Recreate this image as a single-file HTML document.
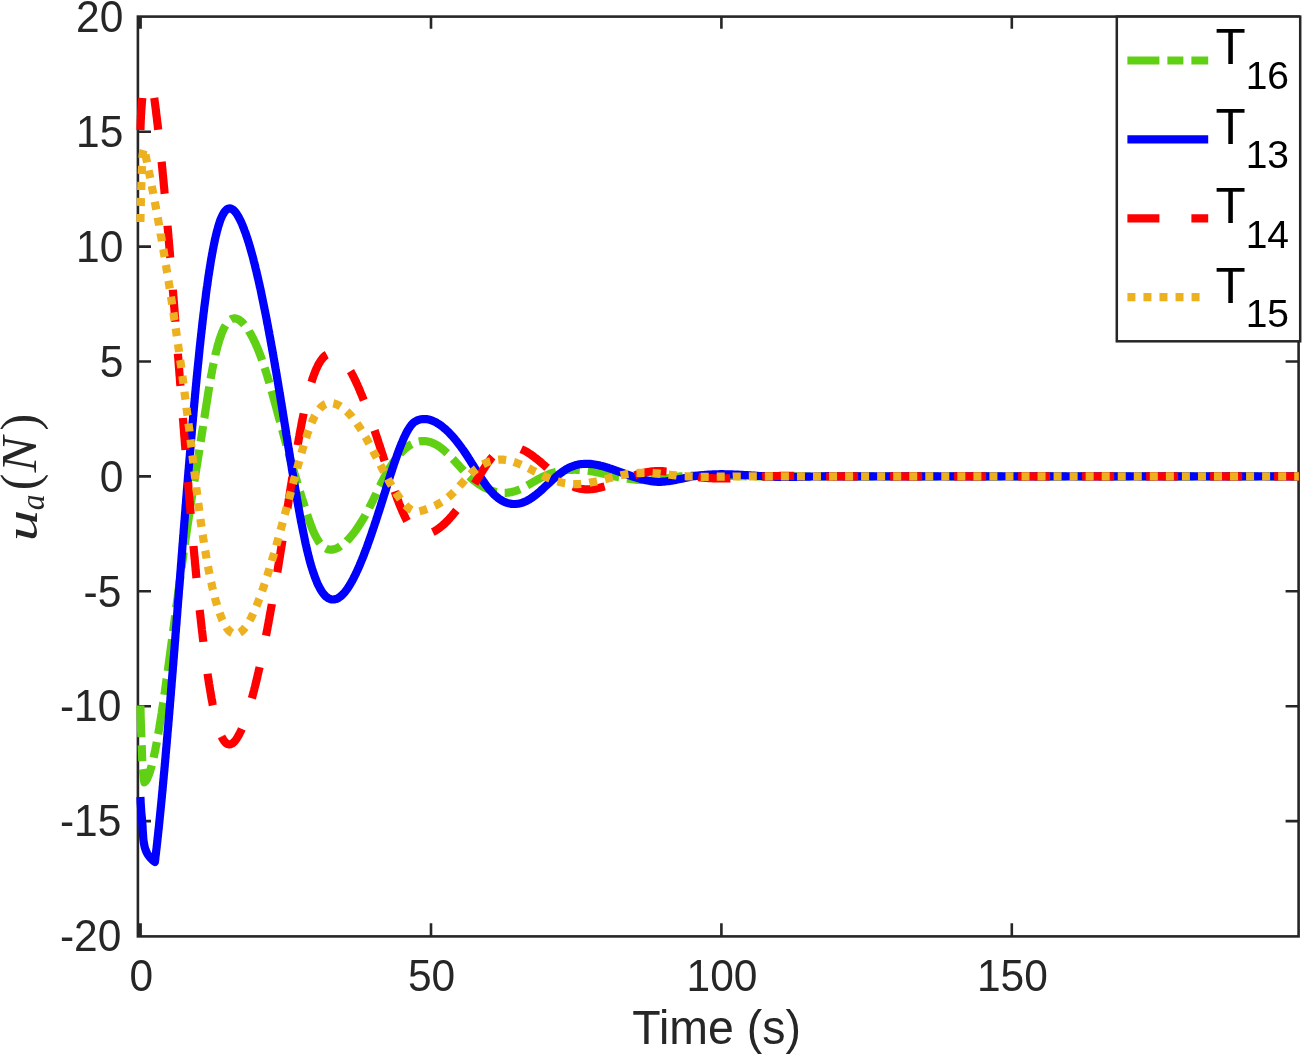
<!DOCTYPE html>
<html><head><meta charset="utf-8"><title>u_a(N) vs Time</title>
<style>
html,body{margin:0;padding:0;background:#fff;}
body{width:1302px;height:1054px;overflow:hidden;}
svg{display:block;}
.tk text{font-family:"Liberation Sans",Arial,Helvetica,sans-serif;font-size:44px;fill:#262626;}
.ax path,.ax rect{stroke:#262626;stroke-width:2.6;fill:none;}
.cv path{fill:none;stroke-width:8.2;stroke-linejoin:round;stroke-linecap:butt;}
.lg text{font-family:"Liberation Sans",Arial,Helvetica,sans-serif;fill:#000;}
</style></head><body>
<svg width="1302" height="1054" viewBox="0 0 1302 1054">
<rect width="1302" height="1054" fill="#fff"/>
<g class="ax">
<rect x="137.9" y="16.6" width="1160.7" height="919.8"/>
<path stroke-width="3.2" style="stroke-width:3.2" d="M140.3 936.4V923.3M140.3 16.6V28.8"/>
<path d="M431.0 936.4V923.3M431.0 16.6V28.8"/>
<path d="M721.4 936.4V923.3M721.4 16.6V28.8"/>
<path d="M1011.8 936.4V923.3M1011.8 16.6V28.8"/>
<path d="M137.9 821.1H151M1298.6 821.1H1285.6"/>
<path d="M137.9 706.2H151M1298.6 706.2H1285.6"/>
<path d="M137.9 591.3H151M1298.6 591.3H1285.6"/>
<path d="M137.9 476.4H151M1298.6 476.4H1285.6"/>
<path d="M137.9 361.5H151M1298.6 361.5H1285.6"/>
<path d="M137.9 246.6H151M1298.6 246.6H1285.6"/>
<path d="M137.9 131.7H151M1298.6 131.7H1285.6"/>
</g>
<g class="tk">
<text transform="translate(141.2 991.1) scale(0.965 1)" text-anchor="middle">0</text>
<text transform="translate(431.6 991.1) scale(0.965 1)" text-anchor="middle">50</text>
<text transform="translate(722.0 991.1) scale(0.965 1)" text-anchor="middle">100</text>
<text transform="translate(1012.4 991.1) scale(0.965 1)" text-anchor="middle">150</text>
<text transform="translate(121.3 951.2) scale(0.965 1)" text-anchor="end">-20</text>
<text transform="translate(121.3 836.3) scale(0.965 1)" text-anchor="end">-15</text>
<text transform="translate(121.3 721.4) scale(0.965 1)" text-anchor="end">-10</text>
<text transform="translate(121.3 606.5) scale(0.965 1)" text-anchor="end">-5</text>
<text transform="translate(123.3 491.6) scale(0.965 1)" text-anchor="end">0</text>
<text transform="translate(123.3 376.7) scale(0.965 1)" text-anchor="end">5</text>
<text transform="translate(123.3 261.8) scale(0.965 1)" text-anchor="end">10</text>
<text transform="translate(123.3 146.9) scale(0.965 1)" text-anchor="end">15</text>
<text transform="translate(123.3 32.0) scale(0.965 1)" text-anchor="end">20</text>
<text x="632.3" y="1044" textLength="168.6" lengthAdjust="spacingAndGlyphs" style="font-size:48.3px">Time (s)</text>
</g>
<g transform="translate(36.3 538.5) rotate(-90)" style="font-family:'Liberation Serif','Times New Roman',serif;fill:#262626">
<text transform="translate(-2.9 0.3) scale(1.40 1)" font-size="45.5px" font-style="italic">u</text>
<text transform="translate(28.35 8.1) scale(0.92 1)" font-size="34.4px" font-style="italic">a</text>
<text transform="translate(48.3 0.8) scale(0.94 1)" font-size="53.4px">(</text>
<text transform="translate(66.3 0) scale(1.05 1)" font-size="50.8px" font-style="italic">N</text>
<text transform="translate(108 0.8) scale(0.94 1)" font-size="53.4px">)</text>
</g>
<g class="cv">
<path stroke="#60D015" stroke-dasharray="31.938 7.985 15.969 7.985" d="M140.4 705.4L140.4 706.9L140.5 708.4L140.5 709.8L140.5 711.3L140.6 712.8L140.6 714.3L140.6 715.8L140.7 717.3L140.7 718.7L140.8 720.2L140.8 721.7L140.9 723.2L140.9 724.7L141.0 726.1L141.0 727.6L141.1 729.1L141.1 730.6L141.2 732.1L141.2 733.5L141.3 735.0L141.4 736.5L141.4 738.0L141.5 739.5L141.5 740.9L141.6 742.4L141.6 743.9L141.7 745.4L141.8 746.9L141.8 748.3L141.9 749.8L141.9 751.3L142.0 752.8L142.0 754.3L142.1 755.8L142.1 757.2L142.2 758.7L142.2 760.2L142.3 761.7L142.4 763.2L142.5 764.6L142.6 766.1L142.7 767.6L142.8 769.1L143.0 770.5L143.1 772.0L143.2 773.5L143.4 775.0L143.6 776.4L143.7 777.9L143.9 779.4L144.1 780.8L144.4 782.3L145.5 781.3L146.4 780.1L147.1 778.8L147.7 777.4L148.3 776.0L148.9 774.6L149.4 773.2L149.9 771.8L150.3 770.4L150.7 768.9L151.2 767.5L151.6 766.0L151.9 764.6L152.3 763.1L152.7 761.7L153.0 760.2L153.4 758.8L153.7 757.3L154.0 755.8L154.3 754.4L154.6 752.9L155.0 751.4L155.3 750.0L155.5 748.5L155.8 747.0L156.1 745.6L156.4 744.1L156.7 742.6L157.0 741.1L157.2 739.7L157.5 738.2L157.8 736.7L158.0 735.2L158.3 733.8L158.5 732.3L158.8 730.8L159.0 729.3L159.3 727.9L159.5 726.4L159.8 724.9L160.0 723.4L160.3 721.9L160.5 720.5L160.7 719.0L161.0 717.5L161.2 716.0L161.4 714.5L161.7 713.1L161.9 711.6L162.1 710.1L162.3 708.6L162.6 707.1L162.8 705.6L163.0 704.2L163.2 702.7L163.5 701.2L163.7 699.7L163.9 698.2L164.1 696.8L164.3 695.3L164.5 693.8L164.8 692.3L165.0 690.8L165.2 689.3L165.4 687.9L165.6 686.4L165.8 684.9L166.0 683.4L166.2 681.9L166.4 680.4L166.7 678.9L166.9 677.5L167.1 676.0L167.3 674.5L167.5 673.0L167.7 671.5L167.9 670.0L168.1 668.6L168.3 667.1L168.5 665.6L168.7 664.1L168.9 662.6L169.1 661.1L169.3 659.6L169.5 658.2L169.7 656.7L169.9 655.2L170.1 653.7L170.3 652.2L170.5 650.7L170.7 649.2L170.9 647.8L171.1 646.3L171.3 644.8L171.5 643.3L171.7 641.8L171.9 640.3L172.1 638.8L172.3 637.4L172.5 635.9L172.7 634.4L172.9 632.9L173.1 631.4L173.3 629.9L173.5 628.4L173.7 627.0L173.9 625.5L174.1 624.0L174.3 622.5L174.5 621.0L174.7 619.5L174.8 618.0L175.0 616.5L175.2 615.1L175.4 613.6L175.6 612.1L175.8 610.6L176.0 609.1L176.2 607.6L176.4 606.1L176.6 604.7L176.8 603.2L177.0 601.7L177.2 600.2L177.4 598.7L177.6 597.2L177.8 595.7L178.0 594.3L178.2 592.8L178.4 591.3L178.6 589.8L178.8 588.3L179.0 586.8L179.2 585.3L179.4 583.9L179.6 582.4L179.8 580.9L180.0 579.4L180.2 577.9L180.4 576.4L180.6 574.9L180.8 573.5L181.0 572.0L181.2 570.5L181.4 569.0L181.6 567.5L181.8 566.0L182.0 564.5L182.2 563.1L182.4 561.6L182.6 560.1L182.8 558.6L183.0 557.1L183.2 555.6L183.4 554.2L183.6 552.7L183.8 551.2L184.1 549.7L184.3 548.2L184.5 546.7L184.7 545.2L184.9 543.8L185.1 542.3L185.3 540.8L185.5 539.3L185.7 537.8L186.0 536.3L186.2 534.9L186.4 533.4L186.6 531.9L186.8 530.4L187.0 528.9L187.3 527.4L187.5 526.0L187.7 524.5L187.9 523.0L188.2 521.5L188.4 520.0L188.6 518.5L188.8 517.1L189.0 515.6L189.3 514.1L189.5 512.6L189.7 511.1L189.9 509.7L190.2 508.2L190.4 506.7L190.6 505.2L190.9 503.7L191.1 502.2L191.3 500.8L191.5 499.3L191.8 497.8L192.0 496.3L192.2 494.8L192.5 493.4L192.7 491.9L192.9 490.4L193.2 488.9L193.4 487.4L193.6 486.0L193.9 484.5L194.1 483.0L194.3 481.5L194.6 480.0L194.8 478.6L195.0 477.1L195.3 475.6L195.5 474.1L195.7 472.6L196.0 471.2L196.2 469.7L196.4 468.2L196.7 466.7L196.9 465.2L197.2 463.7L197.4 462.3L197.6 460.8L197.9 459.3L198.1 457.8L198.3 456.3L198.6 454.9L198.8 453.4L199.0 451.9L199.3 450.4L199.5 448.9L199.7 447.5L200.0 446.0L200.2 444.5L200.4 443.0L200.7 441.5L200.9 440.1L201.1 438.6L201.4 437.1L201.6 435.6L201.8 434.1L202.1 432.7L202.3 431.2L202.5 429.7L202.8 428.2L203.0 426.7L203.2 425.3L203.5 423.8L203.7 422.3L203.9 420.8L204.1 419.3L204.4 417.8L204.6 416.4L204.8 414.9L205.0 413.4L205.3 411.9L205.5 410.4L205.7 409.0L206.0 407.5L206.2 406.0L206.4 404.5L206.7 403.0L206.9 401.5L207.1 400.1L207.4 398.6L207.6 397.1L207.8 395.6L208.1 394.1L208.3 392.7L208.5 391.2L208.8 389.7L209.0 388.2L209.3 386.7L209.5 385.3L209.8 383.8L210.0 382.3L210.3 380.8L210.5 379.4L210.8 377.9L211.0 376.4L211.3 374.9L211.6 373.5L211.9 372.0L212.1 370.5L212.4 369.0L212.7 367.6L213.0 366.1L213.3 364.6L213.6 363.2L213.9 361.7L214.2 360.2L214.5 358.8L214.8 357.3L215.2 355.8L215.4 355.1"/>
<path stroke="#60D015" stroke-dasharray="31.628 7.907 15.814 7.907" d="M215.4 355.1L215.5 354.4L215.9 352.9L216.2 351.5L216.6 350.0L217.0 348.6L217.3 347.1L217.7 345.7L218.1 344.2L218.6 342.8L219.0 341.3L219.4 339.9L219.9 338.5L220.4 337.1L220.9 335.7L221.4 334.2L221.9 332.8L222.5 331.5L223.1 330.1L223.7 328.7L224.4 327.4L225.1 326.1L225.9 324.8L226.7 323.5L227.6 322.3L228.6 321.2L229.7 320.2L231.0 319.4L232.3 318.7L233.8 318.4L235.3 318.4L236.8 318.8L238.1 319.3L239.4 320.1L240.6 321.0L241.8 322.0L242.8 323.0L243.9 324.1L244.8 325.2L245.8 326.4L246.7 327.6L247.5 328.9L248.4 330.1L248.9 331.0"/>
<path stroke="#60D015" stroke-dasharray="32.077 8.019 16.039 8.019" d="M248.9 331.0L249.1 331.4L249.9 332.7L250.7 334.0L251.4 335.3L252.1 336.6L252.8 337.9L253.5 339.3L254.1 340.6L254.8 342.0L255.4 343.3L256.0 344.7L256.6 346.1L257.2 347.5L257.8 348.8L258.3 350.2L258.9 351.6L259.4 353.0L260.0 354.4L260.5 355.8L261.0 357.2L261.5 358.6L262.0 360.0L262.5 361.5L263.0 362.9L263.5 364.3L264.0 365.7L264.4 367.1L264.9 368.6L265.4 370.0L265.8 371.4L266.3 372.8L266.7 374.3L267.2 375.7L267.6 377.1L268.0 378.6L268.5 380.0L268.9 381.4L269.3 382.9L269.7 384.3L270.1 385.8L270.6 387.2L271.0 388.6L271.4 390.1L271.6 390.8"/>
<path stroke="#60D015" stroke-dasharray="32.209 8.052 16.104 8.052" d="M271.6 390.8L271.8 391.5L272.2 393.0L272.6 394.4L273.0 395.9L273.4 397.3L273.8 398.8L274.2 400.2L274.6 401.6L275.0 403.1L275.4 404.5L275.8 406.0L276.2 407.4L276.6 408.9L276.9 410.3L277.3 411.8L277.7 413.2L278.1 414.7L278.5 416.1L278.9 417.6L279.3 419.0L279.7 420.5L280.1 421.9L280.5 423.4L280.8 424.8L281.2 426.2L281.6 427.7L282.0 429.1L282.4 430.6L282.8 432.0L283.2 433.5L283.6 434.9L284.0 436.4L284.4 437.8L284.8 439.3L285.2 440.7L285.6 442.2L286.0 443.6L286.4 445.0L286.8 446.5L287.2 447.9L287.6 449.4L288.0 450.8L288.4 452.3L288.8 453.7L289.2 455.1L289.6 456.6L290.0 458.0L290.4 459.5L290.9 460.9L291.3 462.4L291.7 463.8L292.1 465.2L292.5 466.7L292.9 468.1L293.4 469.5L293.8 471.0L294.2 472.4L294.6 473.9L295.1 475.3L295.5 476.7L295.9 478.2L296.3 479.6L296.8 481.0L297.2 482.5L297.6 483.9L298.1 485.4L298.5 486.8L298.9 488.2L299.4 489.7L299.8 491.1L300.3 492.5L300.7 494.0L301.1 495.4L301.6 496.8L302.0 498.3L302.5 499.7L302.9 501.1L303.4 502.5L303.8 504.0L304.3 505.4L304.7 506.8L305.2 508.3L305.6 509.7L306.1 511.1L306.5 512.5L307.0 514.0L307.2 514.6"/>
<path stroke="#60D015" stroke-dasharray="31.492 7.873 15.746 7.873" d="M307.2 514.6L307.5 515.4L307.9 516.8L308.4 518.2L308.9 519.7L309.4 521.1L309.9 522.5L310.4 523.9L310.9 525.3L311.4 526.7L312.0 528.1L312.5 529.5L313.1 530.9L313.7 532.3L314.3 533.6L315.0 535.0L315.7 536.3L316.4 537.6L317.1 538.9L317.9 540.2L318.7 541.5L319.6 542.7L320.5 543.9L321.5 545.0L322.6 546.0L323.7 547.0L324.9 547.9L326.2 548.6L327.6 549.2L329.1 549.5L330.6 549.7L332.1 549.6L333.5 549.4L335.0 549.0L336.4 548.5L337.7 547.8L339.0 547.1L340.3 546.3L341.5 545.4L342.7 544.5L343.9 543.6L345.0 542.6L346.1 541.6L346.7 541.1"/>
<path stroke="#60D015" stroke-dasharray="32.225 8.056 16.113 8.056" d="M346.7 541.1L347.2 540.5L348.3 539.5L349.3 538.4L350.3 537.2L351.3 536.1L352.2 534.9L353.2 533.8L354.1 532.6L355.0 531.4L355.9 530.2L356.7 529.0L357.6 527.7L358.4 526.5L359.2 525.2L360.0 524.0L360.8 522.7L361.6 521.4L362.4 520.1L363.2 518.9L363.9 517.6L364.7 516.3L365.4 515.0L366.1 513.6L366.9 512.3L367.6 511.0L368.3 509.7L369.0 508.4L369.6 507.0L370.3 505.7L371.0 504.3L371.7 503.0L372.3 501.7L373.0 500.3L373.6 499.0L374.3 497.6L374.9 496.3L375.6 494.9L376.3 493.6L376.9 492.2L377.6 490.9L378.2 489.5L378.9 488.2L379.5 486.8L379.8 486.2"/>
<path stroke="#60D015" stroke-dasharray="30.590 7.647 15.295 7.647" d="M379.8 486.2L380.2 485.5L380.8 484.1L381.5 482.8L382.2 481.5L382.9 480.1L383.6 478.8L384.3 477.5L385.0 476.1L385.7 474.8L386.4 473.5L387.2 472.2L387.9 470.9L388.7 469.6L389.4 468.3L390.2 467.1L391.0 465.8L391.9 464.5L392.7 463.3L393.5 462.1L394.4 460.8L395.3 459.6L396.2 458.4L397.1 457.2L398.0 456.1L399.0 454.9L400.0 453.8L401.0 452.7L402.0 451.6L403.1 450.6L404.2 449.5L405.3 448.5L406.5 447.6L407.7 446.7L408.9 445.8L410.2 445.0L411.5 444.2L412.8 443.6L414.2 442.9L415.5 442.4L417.0 441.9L418.4 441.6L418.9 441.5"/>
<path stroke="#60D015" stroke-dasharray="32.000 8.000 16.000 8.000" d="M418.9 441.5L419.9 441.3L421.4 441.1L422.9 441.0L424.4 441.1L425.9 441.2L427.4 441.4L428.8 441.7L430.3 442.1L431.7 442.6L433.1 443.2L434.4 443.8L435.8 444.5L437.1 445.2L438.4 446.0L439.6 446.8L440.8 447.7L442.0 448.6L443.2 449.6L444.3 450.5L445.4 451.5L446.5 452.6L447.6 453.6L448.7 454.6L449.7 455.7L450.8 456.8L451.8 457.9L452.8 459.0L453.9 460.1L454.9 461.2L455.9 462.3L456.9 463.4L457.9 464.5L458.9 465.6L459.9 466.7L460.9 467.8L461.9 468.9L463.0 470.0L464.0 471.1L465.0 472.2L466.1 473.3L467.1 474.3L468.2 475.4L469.3 476.4L470.4 477.4L471.5 478.4L472.6 479.4L473.8 480.4L475.0 481.3L476.2 482.2L477.4 483.1L478.6 484.0L479.8 484.8L481.1 485.6L482.4 486.4L483.7 487.1L485.0 487.8L486.3 488.5L487.7 489.1L489.1 489.7L490.5 490.3L491.9 490.8L493.3 491.2L494.8 491.6L496.2 492.0L497.7 492.3L499.2 492.5L500.7 492.7L502.2 492.8L503.7 492.9L505.2 492.9L506.6 492.8L508.1 492.6L509.6 492.4L511.1 492.2L512.6 491.8L514.0 491.5L515.4 491.0L516.9 490.5L518.3 490.0L519.6 489.4L521.0 488.8L522.3 488.1L523.7 487.4L525.0 486.7L526.3 486.0L527.6 485.3L528.9 484.5L530.2 483.8L531.5 483.0L532.8 482.3L534.1 481.5L535.4 480.8L536.7 480.0L538.0 479.3L539.3 478.6L540.7 477.9L542.0 477.2L543.4 476.5L544.7 475.9L546.1 475.3L547.5 474.8L548.9 474.2L550.3 473.7L551.7 473.2L553.1 472.8L554.6 472.4L556.0 472.0L557.5 471.6L558.9 471.3L560.4 471.0L561.9 470.8L563.4 470.5L564.9 470.3L566.3 470.2L567.8 470.0L569.3 469.9L570.8 469.8L572.3 469.8L573.8 469.7L575.3 469.7L576.8 469.8L578.3 469.8L579.8 469.9L581.3 470.0L582.8 470.1L584.3 470.3L585.8 470.4L587.3 470.6L588.8 470.8L590.2 471.1L591.7 471.3L593.2 471.6L594.7 471.9L596.1 472.2L597.6 472.5L599.1 472.8L600.5 473.1L602.0 473.4L603.5 473.8L604.9 474.1L606.4 474.4L607.8 474.8L609.3 475.1L610.8 475.5L612.2 475.8L613.7 476.1L615.2 476.4L616.6 476.8L618.1 477.1L619.6 477.3L621.0 477.6L622.5 477.9L624.0 478.1L625.5 478.4L626.9 478.6L628.4 478.8L629.9 479.0L631.4 479.2L632.9 479.4L634.4 479.5L635.9 479.7L637.4 479.8L638.9 479.9L640.4 480.0L641.9 480.0L643.4 480.1L644.9 480.1L646.4 480.1L647.9 480.0L649.4 480.0L650.8 479.9L652.3 479.8L653.8 479.7L655.3 479.6L656.8 479.4L658.3 479.3L659.8 479.1L661.3 478.9L662.8 478.8L664.3 478.6L665.8 478.4L667.2 478.2L668.7 478.0L670.2 477.8L671.7 477.6L673.2 477.4L674.7 477.2L676.2 477.0L677.6 476.8L679.1 476.6L680.6 476.4L682.1 476.3L683.6 476.2L685.1 476.0L686.6 475.9L688.1 475.8L689.6 475.7L691.1 475.7L692.6 475.6L694.1 475.5L695.6 475.5L697.1 475.5L698.6 475.4L700.1 475.4L701.6 475.4L703.1 475.4L704.6 475.4L706.1 475.4L707.6 475.4L709.1 475.4L710.6 475.5L712.1 475.5L713.6 475.5L715.1 475.5L716.6 475.6L718.1 475.6L719.6 475.6L721.1 475.7L722.6 475.7L724.1 475.8L725.6 475.8L727.0 475.8L728.5 475.9L730.0 475.9L731.5 475.9L733.0 476.0L734.5 476.0L736.0 476.0L737.5 476.1L739.0 476.1L740.5 476.1L742.0 476.2L743.5 476.2L745.0 476.2L746.5 476.3L748.0 476.3L749.5 476.3L751.0 476.4L752.5 476.4L754.0 476.4L755.5 476.4L757.0 476.4L758.5 476.5L760.0 476.5L761.5 476.5L763.0 476.5L764.5 476.5L766.0 476.5L767.5 476.5L769.0 476.6L770.5 476.6L772.0 476.6L773.5 476.6L775.0 476.6L776.5 476.6L778.0 476.5L779.5 476.5L781.0 476.5L782.5 476.5L784.0 476.5L785.5 476.5L787.0 476.5L788.5 476.4L790.0 476.4L1298.8 476.4"/>
<path id="cb" stroke="#0000FF" d="M140.4 797.1L140.5 798.6L140.6 800.1L140.6 801.6L140.7 803.1L140.8 804.5L140.9 806.0L141.0 807.5L141.1 809.0L141.2 810.5L141.3 812.0L141.4 813.5L141.6 815.0L141.7 816.4L141.9 817.9L142.0 819.4L142.1 820.9L142.3 822.4L142.4 823.9L142.5 825.4L142.6 826.8L142.6 828.3L142.7 829.8L142.8 831.3L142.9 832.8L143.0 834.3L143.1 835.8L143.2 837.3L143.3 838.7L143.5 840.2L143.7 841.7L143.9 843.2L144.2 844.6L144.5 846.1L144.8 847.5L145.3 849.0L145.8 850.4L146.4 851.8L147.0 853.1L147.8 854.4L148.6 855.6L149.5 856.8L150.5 857.9L151.5 859.0L152.5 860.1L153.7 861.1L154.9 861.9L155.1 860.4L155.3 858.9L155.4 857.4L155.6 855.9L155.8 854.5L156.0 853.0L156.1 851.5L156.3 850.0L156.5 848.5L156.7 847.0L156.8 845.5L157.0 844.0L157.2 842.5L157.3 841.1L157.5 839.6L157.6 838.1L157.8 836.6L158.0 835.1L158.1 833.6L158.3 832.1L158.4 830.6L158.6 829.1L158.8 827.6L158.9 826.2L159.1 824.7L159.2 823.2L159.4 821.7L159.5 820.2L159.7 818.7L159.8 817.2L160.0 815.7L160.1 814.2L160.3 812.7L160.4 811.2L160.6 809.7L160.7 808.3L160.9 806.8L161.0 805.3L161.2 803.8L161.3 802.3L161.5 800.8L161.6 799.3L161.8 797.8L161.9 796.3L162.0 794.8L162.2 793.3L162.3 791.8L162.5 790.4L162.6 788.9L162.7 787.4L162.9 785.9L163.0 784.4L163.2 782.9L163.3 781.4L163.4 779.9L163.6 778.4L163.7 776.9L163.8 775.4L164.0 773.9L164.1 772.4L164.3 770.9L164.4 769.5L164.5 768.0L164.7 766.5L164.8 765.0L164.9 763.5L165.1 762.0L165.2 760.5L165.3 759.0L165.5 757.5L165.6 756.0L165.7 754.5L165.8 753.0L166.0 751.5L166.1 750.0L166.2 748.6L166.4 747.1L166.5 745.6L166.6 744.1L166.8 742.6L166.9 741.1L167.0 739.6L167.1 738.1L167.3 736.6L167.4 735.1L167.5 733.6L167.6 732.1L167.8 730.6L167.9 729.1L168.0 727.6L168.2 726.2L168.3 724.7L168.4 723.2L168.5 721.7L168.7 720.2L168.8 718.7L168.9 717.2L169.0 715.7L169.2 714.2L169.3 712.7L169.4 711.2L169.5 709.7L169.7 708.2L169.8 706.7L169.9 705.2L170.0 703.7L170.1 702.3L170.3 700.8L170.4 699.3L170.5 697.8L170.6 696.3L170.8 694.8L170.9 693.3L171.0 691.8L171.1 690.3L171.2 688.8L171.4 687.3L171.5 685.8L171.6 684.3L171.7 682.8L171.8 681.3L172.0 679.8L172.1 678.3L172.2 676.9L172.3 675.4L172.4 673.9L172.6 672.4L172.7 670.9L172.8 669.4L172.9 667.9L173.0 666.4L173.2 664.9L173.3 663.4L173.4 661.9L173.5 660.4L173.6 658.9L173.8 657.4L173.9 655.9L174.0 654.4L174.1 652.9L174.2 651.5L174.4 650.0L174.5 648.5L174.6 647.0L174.7 645.5L174.8 644.0L174.9 642.5L175.1 641.0L175.2 639.5L175.3 638.0L175.4 636.5L175.5 635.0L175.6 633.5L175.8 632.0L175.9 630.5L176.0 629.0L176.1 627.5L176.2 626.0L176.4 624.6L176.5 623.1L176.6 621.6L176.7 620.1L176.8 618.6L176.9 617.1L177.1 615.6L177.2 614.1L177.3 612.6L177.4 611.1L177.5 609.6L177.6 608.1L177.8 606.6L177.9 605.1L178.0 603.6L178.1 602.1L178.2 600.6L178.3 599.2L178.5 597.7L178.6 596.2L178.7 594.7L178.8 593.2L178.9 591.7L179.0 590.2L179.2 588.7L179.3 587.2L179.4 585.7L179.5 584.2L179.6 582.7L179.7 581.2L179.9 579.7L180.0 578.2L180.1 576.7L180.2 575.2L180.3 573.7L180.4 572.3L180.6 570.8L180.7 569.3L180.8 567.8L180.9 566.3L181.0 564.8L181.1 563.3L181.3 561.8L181.4 560.3L181.5 558.8L181.6 557.3L181.7 555.8L181.8 554.3L182.0 552.8L182.1 551.3L182.2 549.8L182.3 548.3L182.4 546.8L182.5 545.4L182.7 543.9L182.8 542.4L182.9 540.9L183.0 539.4L183.1 537.9L183.3 536.4L183.4 534.9L183.5 533.4L183.6 531.9L183.7 530.4L183.8 528.9L184.0 527.4L184.1 525.9L184.2 524.4L184.3 522.9L184.4 521.4L184.6 520.0L184.7 518.5L184.8 517.0L184.9 515.5L185.0 514.0L185.1 512.5L185.3 511.0L185.4 509.5L185.5 508.0L185.6 506.5L185.7 505.0L185.9 503.5L186.0 502.0L186.1 500.5L186.2 499.0L186.3 497.5L186.5 496.0L186.6 494.5L186.7 493.1L186.8 491.6L186.9 490.1L187.1 488.6L187.2 487.1L187.3 485.6L187.4 484.1L187.6 482.6L187.7 481.1L187.8 479.6L187.9 478.1L188.0 476.6L188.2 475.1L188.3 473.6L188.4 472.1L188.5 470.6L188.7 469.2L188.8 467.7L188.9 466.2L189.0 464.7L189.2 463.2L189.3 461.7L189.4 460.2L189.5 458.7L189.7 457.2L189.8 455.7L189.9 454.2L190.0 452.7L190.2 451.2L190.3 449.7L190.4 448.2L190.5 446.7L190.7 445.3L190.8 443.8L190.9 442.3L191.0 440.8L191.2 439.3L191.3 437.8L191.4 436.3L191.6 434.8L191.7 433.3L191.8 431.8L191.9 430.3L192.1 428.8L192.2 427.3L192.3 425.8L192.5 424.3L192.6 422.9L192.7 421.4L192.9 419.9L193.0 418.4L193.1 416.9L193.3 415.4L193.4 413.9L193.5 412.4L193.7 410.9L193.8 409.4L193.9 407.9L194.1 406.4L194.2 404.9L194.3 403.4L194.5 402.0L194.6 400.5L194.7 399.0L194.9 397.5L195.0 396.0L195.1 394.5L195.3 393.0L195.4 391.5L195.6 390.0L195.7 388.5L195.8 387.0L196.0 385.5L196.1 384.0L196.3 382.5L196.4 381.1L196.5 379.6L196.7 378.1L196.8 376.6L197.0 375.1L197.1 373.6L197.3 372.1L197.4 370.6L197.6 369.1L197.7 367.6L197.9 366.1L198.0 364.6L198.2 363.2L198.3 361.7L198.5 360.2L198.6 358.7L198.8 357.2L198.9 355.7L199.1 354.2L199.2 352.7L199.4 351.2L199.5 349.7L199.7 348.2L199.8 346.8L200.0 345.3L200.2 343.8L200.3 342.3L200.5 340.8L200.6 339.3L200.8 337.8L201.0 336.3L201.1 334.8L201.3 333.3L201.5 331.9L201.6 330.4L201.8 328.9L202.0 327.4L202.1 325.9L202.3 324.4L202.5 322.9L202.6 321.4L202.8 319.9L203.0 318.4L203.2 317.0L203.3 315.5L203.5 314.0L203.7 312.5L203.9 311.0L204.1 309.5L204.2 308.0L204.4 306.5L204.6 305.1L204.8 303.6L205.0 302.1L205.2 300.6L205.4 299.1L205.6 297.6L205.8 296.1L205.9 294.6L206.1 293.2L206.3 291.7L206.5 290.2L206.7 288.7L206.9 287.2L207.2 285.7L207.4 284.3L207.6 282.8L207.8 281.3L208.0 279.8L208.2 278.3L208.4 276.8L208.6 275.4L208.9 273.9L209.1 272.4L209.3 270.9L209.6 269.4L209.8 267.9L210.0 266.5L210.3 265.0L210.5 263.5L210.7 262.0L211.0 260.5L211.2 259.1L211.5 257.6L211.8 256.1L212.0 254.6L212.3 253.2L212.6 251.7L212.8 250.2L213.1 248.7L213.4 247.3L213.7 245.8L214.0 244.3L214.3 242.9L214.6 241.4L214.9 239.9L215.2 238.5L215.6 237.0L215.9 235.5L216.3 234.1L216.6 232.6L217.0 231.2L217.4 229.7L217.8 228.3L218.2 226.8L218.6 225.4L219.1 224.0L219.5 222.6L220.0 221.1L220.5 219.7L221.1 218.3L221.7 217.0L222.3 215.6L223.0 214.3L223.8 213.0L224.6 211.7L225.6 210.6L226.6 209.6L227.9 208.8L229.4 208.4L230.8 208.6L232.2 209.2L233.4 210.0L234.5 211.1L235.5 212.2L236.4 213.4L237.2 214.7L238.0 215.9L238.7 217.2L239.4 218.6L240.1 219.9L240.8 221.3L241.4 222.6L242.0 224.0L242.6 225.4L243.1 226.8L243.7 228.2L244.2 229.6L244.7 231.0L245.3 232.4L245.8 233.8L246.2 235.2L246.7 236.6L247.2 238.0L247.7 239.5L248.1 240.9L248.6 242.3L249.0 243.8L249.4 245.2L249.9 246.6L250.3 248.1L250.7 249.5L251.1 251.0L251.5 252.4L251.9 253.8L252.3 255.3L252.7 256.7L253.1 258.2L253.5 259.6L253.8 261.1L254.2 262.5L254.6 264.0L254.9 265.4L255.3 266.9L255.6 268.4L256.0 269.8L256.4 271.3L256.7 272.7L257.0 274.2L257.4 275.6L257.7 277.1L258.1 278.6L258.4 280.0L258.7 281.5L259.1 283.0L259.4 284.4L259.7 285.9L260.0 287.3L260.4 288.8L260.7 290.3L261.0 291.7L261.3 293.2L261.6 294.7L261.9 296.1L262.2 297.6L262.5 299.1L262.8 300.5L263.1 302.0L263.4 303.5L263.7 304.9L264.0 306.4L264.3 307.9L264.6 309.3L264.9 310.8L265.2 312.3L265.5 313.8L265.8 315.2L266.1 316.7L266.4 318.2L266.7 319.6L266.9 321.1L267.2 322.6L267.5 324.1L267.8 325.5L268.1 327.0L268.3 328.5L268.6 330.0L268.9 331.4L269.2 332.9L269.4 334.4L269.7 335.8L270.0 337.3L270.3 338.8L270.5 340.3L270.8 341.7L271.1 343.2L271.3 344.7L271.6 346.2L271.9 347.6L272.1 349.1L272.4 350.6L272.7 352.1L272.9 353.5L273.2 355.0L273.4 356.5L273.7 358.0L274.0 359.5L274.2 360.9L274.5 362.4L274.7 363.9L275.0 365.4L275.2 366.8L275.5 368.3L275.7 369.8L276.0 371.3L276.3 372.7L276.5 374.2L276.8 375.7L277.0 377.2L277.3 378.7L277.5 380.1L277.8 381.6L278.0 383.1L278.3 384.6L278.5 386.0L278.7 387.5L279.0 389.0L279.2 390.5L279.5 392.0L279.7 393.4L280.0 394.9L280.2 396.4L280.5 397.9L280.7 399.4L280.9 400.8L281.2 402.3L281.4 403.8L281.7 405.3L281.9 406.8L282.2 408.2L282.4 409.7L282.6 411.2L282.9 412.7L283.1 414.1L283.3 415.6L283.6 417.1L283.8 418.6L284.1 420.1L284.3 421.5L284.5 423.0L284.8 424.5L285.0 426.0L285.3 427.5L285.5 428.9L285.7 430.4L286.0 431.9L286.2 433.4L286.4 434.9L286.7 436.3L286.9 437.8L287.2 439.3L287.4 440.8L287.6 442.3L287.9 443.7L288.1 445.2L288.3 446.7L288.6 448.2L288.8 449.7L289.1 451.1L289.3 452.6L289.5 454.1L289.8 455.6L290.0 457.1L290.2 458.5L290.5 460.0L290.7 461.5L291.0 463.0L291.2 464.5L291.5 465.9L291.7 467.4L291.9 468.9L292.2 470.4L292.4 471.9L292.7 473.3L292.9 474.8L293.2 476.3L293.4 477.8L293.6 479.3L293.9 480.7L294.1 482.2L294.4 483.7L294.6 485.2L294.9 486.6L295.1 488.1L295.4 489.6L295.6 491.1L295.9 492.6L296.2 494.0L296.4 495.5L296.7 497.0L296.9 498.5L297.2 499.9L297.4 501.4L297.7 502.9L298.0 504.4L298.2 505.8L298.5 507.3L298.8 508.8L299.0 510.3L299.3 511.7L299.6 513.2L299.8 514.7L300.1 516.2L300.4 517.6L300.7 519.1L300.9 520.6L301.2 522.1L301.5 523.5L301.8 525.0L302.1 526.5L302.4 527.9L302.7 529.4L303.0 530.9L303.3 532.4L303.6 533.8L303.9 535.3L304.2 536.8L304.5 538.2L304.8 539.7L305.1 541.2L305.4 542.6L305.7 544.1L306.1 545.5L306.4 547.0L306.7 548.5L307.1 549.9L307.4 551.4L307.8 552.8L308.1 554.3L308.5 555.8L308.9 557.2L309.2 558.7L309.6 560.1L310.0 561.6L310.4 563.0L310.8 564.4L311.2 565.9L311.7 567.3L312.1 568.7L312.6 570.2L313.0 571.6L313.5 573.0L314.0 574.4L314.5 575.9L315.0 577.3L315.5 578.7L316.1 580.1L316.6 581.4L317.2 582.8L317.8 584.2L318.5 585.5L319.2 586.9L319.9 588.2L320.6 589.5L321.4 590.8L322.2 592.1L323.1 593.3L324.0 594.4L325.0 595.6L326.1 596.6L327.3 597.5L328.5 598.3L329.9 598.9L331.3 599.4L332.8 599.5L334.3 599.4L335.8 599.1L337.2 598.6L338.5 597.9L339.7 597.0L340.9 596.1L342.0 595.1L343.1 594.0L344.1 592.9L345.1 591.8L346.0 590.6L346.9 589.4L347.7 588.2L348.6 586.9L349.4 585.6L350.1 584.4L350.9 583.1L351.6 581.8L352.4 580.5L353.1 579.1L353.8 577.8L354.4 576.5L355.1 575.1L355.8 573.8L356.4 572.4L357.0 571.1L357.7 569.7L358.3 568.3L358.9 567.0L359.5 565.6L360.1 564.2L360.6 562.8L361.2 561.4L361.8 560.0L362.3 558.7L362.9 557.3L363.5 555.9L364.0 554.5L364.5 553.1L365.1 551.7L365.6 550.3L366.1 548.9L366.7 547.5L367.2 546.1L367.7 544.6L368.2 543.2L368.7 541.8L369.2 540.4L369.7 539.0L370.2 537.6L370.7 536.2L371.2 534.8L371.7 533.3L372.2 531.9L372.6 530.5L373.1 529.1L373.6 527.7L374.1 526.2L374.5 524.8L375.0 523.4L375.5 522.0L376.0 520.5L376.4 519.1L376.9 517.7L377.4 516.3L377.8 514.8L378.3 513.4L378.7 512.0L379.2 510.6L379.7 509.1L380.1 507.7L380.6 506.3L381.0 504.9L381.5 503.4L381.9 502.0L382.4 500.6L382.8 499.1L383.3 497.7L383.7 496.3L384.2 494.8L384.6 493.4L385.1 492.0L385.5 490.6L386.0 489.1L386.4 487.7L386.9 486.3L387.3 484.8L387.8 483.4L388.2 482.0L388.7 480.5L389.1 479.1L389.6 477.7L390.0 476.3L390.5 474.8L390.9 473.4L391.4 472.0L391.9 470.6L392.3 469.1L392.8 467.7L393.3 466.3L393.7 464.9L394.2 463.4L394.7 462.0L395.2 460.6L395.7 459.2L396.2 457.8L396.7 456.4L397.2 454.9L397.7 453.5L398.2 452.1L398.7 450.7L399.2 449.3L399.8 447.9L400.3 446.5L400.9 445.1L401.4 443.7L402.0 442.4L402.6 441.0L403.2 439.6L403.8 438.2L404.4 436.9L405.1 435.5L405.7 434.2L406.4 432.8L407.1 431.5L407.9 430.2L408.6 428.9L409.4 427.7L410.3 426.4L411.2 425.2L412.1 424.1L413.2 423.0L414.3 422.0L415.6 421.3L416.9 420.6L418.3 420.0L419.8 419.6L421.2 419.3L422.7 419.1L424.2 419.0L425.7 419.1L427.2 419.2L428.7 419.5L430.1 419.9L431.5 420.4L432.9 420.9L434.3 421.5L435.6 422.2L436.9 422.9L438.2 423.7L439.5 424.5L440.7 425.4L441.9 426.3L443.1 427.2L444.2 428.2L445.4 429.1L446.5 430.2L447.6 431.2L448.6 432.2L449.7 433.3L450.7 434.4L451.7 435.5L452.7 436.6L453.7 437.7L454.7 438.9L455.6 440.0L456.6 441.2L457.5 442.4L458.4 443.5L459.3 444.7L460.2 445.9L461.1 447.1L462.0 448.4L462.9 449.6L463.7 450.8L464.6 452.0L465.4 453.3L466.3 454.5L467.1 455.8L467.9 457.0L468.7 458.3L469.5 459.6L470.3 460.8L471.1 462.1L471.9 463.4L472.7 464.6L473.5 465.9L474.3 467.2L475.1 468.4L475.9 469.7L476.6 471.0L477.4 472.3L478.2 473.5L479.0 474.8L479.9 476.1L480.7 477.3L481.5 478.6L482.3 479.8L483.2 481.1L484.0 482.3L484.9 483.5L485.7 484.7L486.6 485.9L487.5 487.1L488.5 488.3L489.4 489.5L490.4 490.6L491.4 491.7L492.4 492.8L493.4 493.9L494.5 495.0L495.6 496.0L496.7 496.9L497.9 497.9L499.1 498.8L500.3 499.6L501.6 500.4L502.9 501.1L504.3 501.8L505.7 502.4L507.1 502.9L508.5 503.3L510.0 503.6L511.4 503.9L512.9 504.0L514.4 504.0L515.9 504.0L517.4 503.8L518.9 503.6L520.4 503.3L521.8 502.9L523.2 502.4L524.6 501.8L526.0 501.2L527.3 500.6L528.6 499.8L529.9 499.1L531.2 498.3L532.4 497.4L533.6 496.5L534.8 495.6L536.0 494.7L537.2 493.8L538.3 492.8L539.5 491.8L540.6 490.9L541.7 489.9L542.8 488.9L543.9 487.8L545.0 486.8L546.1 485.8L547.2 484.8L548.3 483.8L549.4 482.8L550.5 481.7L551.6 480.7L552.7 479.7L553.9 478.7L555.0 477.7L556.1 476.7L557.2 475.8L558.4 474.8L559.6 473.9L560.8 473.0L562.0 472.1L563.2 471.2L564.4 470.4L565.7 469.6L567.0 468.8L568.3 468.1L569.6 467.4L571.0 466.8L572.4 466.3L573.8 465.8L575.2 465.3L576.7 464.9L578.2 464.6L579.6 464.3L581.1 464.1L582.6 464.0L584.1 463.9L585.6 463.8L587.1 463.8L588.6 463.8L590.1 463.9L591.6 464.1L593.1 464.3L594.5 464.5L596.0 464.7L597.5 465.0L599.0 465.3L600.4 465.7L601.9 466.0L603.3 466.4L604.8 466.8L606.2 467.3L607.6 467.7L609.0 468.2L610.5 468.6L611.9 469.1L613.3 469.6L614.7 470.1L616.1 470.6L617.5 471.1L618.9 471.6L620.4 472.1L621.8 472.6L623.2 473.1L624.6 473.7L626.0 474.2L627.4 474.7L628.8 475.2L630.2 475.7L631.6 476.2L633.1 476.6L634.5 477.1L635.9 477.5L637.3 478.0L638.8 478.4L640.2 478.8L641.7 479.2L643.1 479.6L644.6 479.9L646.0 480.2L647.5 480.5L649.0 480.8L650.5 481.1L651.9 481.3L653.4 481.4L654.9 481.6L656.4 481.7L657.9 481.8L659.4 481.8L660.9 481.8L662.4 481.7L663.9 481.6L665.4 481.5L666.9 481.3L668.4 481.1L669.9 480.9L671.3 480.7L672.8 480.4L674.3 480.2L675.8 479.9L677.2 479.6L678.7 479.3L680.2 479.0L681.6 478.7L683.1 478.4L684.6 478.1L686.0 477.7L687.5 477.4L689.0 477.1L690.4 476.9L691.9 476.6L693.4 476.3L694.9 476.1L696.3 475.9L697.8 475.7L699.3 475.5L700.8 475.3L702.3 475.2L703.8 475.0L705.3 474.9L706.8 474.8L708.3 474.7L709.8 474.6L711.3 474.5L712.7 474.4L714.2 474.4L715.7 474.3L717.2 474.3L718.7 474.3L720.2 474.2L721.7 474.2L723.2 474.2L724.7 474.3L726.2 474.3L727.7 474.3L729.2 474.3L730.7 474.4L732.2 474.4L733.7 474.5L735.2 474.5L736.7 474.6L738.2 474.7L739.7 474.8L741.2 474.8L742.7 474.9L744.2 475.0L745.7 475.1L747.2 475.2L748.7 475.3L750.2 475.4L751.7 475.5L753.2 475.6L754.7 475.7L756.1 475.8L757.6 475.9L759.1 476.0L760.6 476.0L762.1 476.1L763.6 476.2L765.1 476.3L766.6 476.4L768.1 476.5L769.6 476.5L771.1 476.6L772.6 476.7L774.1 476.7L775.6 476.8L777.1 476.8L778.6 476.9L780.1 476.9L781.6 476.9L783.1 477.0L784.6 477.0L786.1 477.0L787.6 477.0L789.1 477.0L790.6 477.0L792.1 477.0L793.6 476.9L795.1 476.9L796.6 476.9L798.1 476.9L799.6 476.8L801.1 476.8L802.6 476.8L804.1 476.7L805.6 476.7L807.0 476.6L808.5 476.6L810.0 476.6L811.5 476.5L813.0 476.5L814.5 476.4L816.0 476.4L817.5 476.4L819.0 476.3L820.5 476.3L822.0 476.3L823.5 476.3L825.0 476.3L826.5 476.2L828.0 476.2L829.5 476.2L831.0 476.2L832.5 476.2L834.0 476.3L835.5 476.3L837.0 476.3L838.5 476.4L840.0 476.4L1298.8 476.4"/>
<path stroke="#FF0000" stroke-dasharray="32.145 32.145" d="M140.4 130.0L140.5 128.5L140.5 127.1L140.6 125.6L140.6 124.2L140.7 122.7L140.7 121.2L140.8 119.8L140.9 118.3L140.9 116.8L141.0 115.4L141.1 113.9L141.2 112.5L141.3 111.0L141.4 109.5L141.5 108.1L141.6 106.6L141.7 105.2L141.8 103.7L141.9 102.2L142.0 100.8L142.2 99.3L142.3 97.9L142.4 96.4L142.6 95.0L142.7 93.5L142.8 92.0L143.0 90.6L143.2 89.1L144.1 88.0L145.4 87.3L146.7 86.7L148.1 86.1L149.4 85.5L150.8 85.2L152.3 85.0L152.5 86.5L152.8 88.0L153.0 89.4L153.2 90.9L153.4 92.4L153.7 93.9L153.9 95.4L154.1 96.9L154.3 98.3L154.5 99.8L154.7 101.3L154.9 102.8L155.1 104.3L155.3 105.8L155.5 107.3L155.7 108.8L155.9 110.2L156.1 111.7L156.2 113.2L156.4 114.7L156.6 116.2L156.8 117.7L157.0 119.2L157.1 120.7L157.3 122.2L157.5 123.6L157.7 125.1L157.8 126.6L158.0 128.1L158.2 129.6L158.4 131.1L158.5 132.6L158.7 134.1L158.9 135.6L159.0 137.1L159.2 138.5L159.3 140.0L159.5 141.5L159.7 143.0L159.8 144.5L160.0 146.0L160.1 147.5L160.3 149.0L160.5 150.5L160.6 152.0L160.8 153.5L160.9 154.9L161.1 156.4L161.2 157.9L161.4 159.4L161.5 160.9L161.7 162.4L161.8 163.9L162.0 165.4L162.1 166.9L162.3 168.4L162.4 169.9L162.6 171.4L162.7 172.9L162.8 174.3L163.0 175.8L163.1 177.3L163.3 178.8L163.4 180.3L163.6 181.8L163.7 183.3L163.8 184.8L164.0 186.3L164.1 187.8L164.3 189.3L164.4 190.8L164.5 192.3L164.7 193.8L164.8 195.2L164.9 196.7L165.1 198.2L165.2 199.7L165.4 201.2L165.5 202.7L165.6 204.2L165.8 205.7L165.9 207.2L166.0 208.7L166.2 210.2L166.3 211.7L166.4 213.2L166.6 214.7L166.7 216.2L166.8 217.7L167.0 219.1L167.1 220.6L167.2 222.1L167.3 223.6L167.5 225.1L167.6 226.6L167.7 228.1L167.9 229.6L168.0 231.1L168.1 232.6L168.2 234.1L168.4 235.6L168.5 237.1L168.6 238.6L168.8 240.1L168.9 241.6L169.0 243.1L169.1 244.5L169.3 246.0L169.4 247.5L169.5 249.0L169.6 250.5L169.8 252.0L169.9 253.5L170.0 255.0L170.1 256.5L170.3 258.0L170.4 259.5L170.5 261.0L170.6 262.5L170.8 264.0L170.9 265.5L171.0 267.0L171.1 268.5L171.2 270.0L171.4 271.5L171.5 272.9L171.6 274.4L171.7 275.9L171.9 277.4L172.0 278.9L172.1 280.4L172.2 281.9L172.3 283.4L172.5 284.9L172.6 286.4L172.7 287.9L172.8 289.4L172.9 290.9L173.1 292.4L173.2 293.9L173.3 295.4L173.4 296.9L173.5 298.4L173.7 299.9L173.8 301.3L173.9 302.8L174.0 304.3L174.1 305.8L174.3 307.3L174.4 308.8L174.5 310.3L174.6 311.8L174.7 313.3L174.8 314.8L175.0 316.3L175.1 317.8L175.2 319.3L175.3 320.8L175.4 322.3L175.6 323.8L175.7 325.3L175.8 326.8L175.9 328.3L176.0 329.8L176.1 331.2L176.3 332.7L176.4 334.2L176.5 335.7L176.6 337.2L176.7 338.7L176.9 340.2L177.0 341.7L177.1 343.2L177.2 344.7L177.3 346.2L177.4 347.7L177.6 349.2L177.7 350.7L177.8 352.2L177.9 353.7L178.0 355.2L178.1 356.7L178.3 358.2L178.4 359.7L178.5 361.1L178.6 362.6L178.7 364.1L178.8 365.6L179.0 367.1L179.1 368.6L179.2 370.1L179.3 371.6L179.4 373.1L179.5 374.6L179.7 376.1L179.8 377.6L179.9 379.1L180.0 380.6L180.1 382.1L180.2 383.6L180.4 385.1L180.5 386.6L180.6 388.1L180.7 389.6L180.8 391.0L180.9 392.5L181.1 394.0L181.2 395.5L181.3 397.0L181.4 398.5L181.5 400.0L181.6 401.5L181.8 403.0L181.9 404.5L182.0 406.0L182.1 407.5L182.2 409.0L182.3 410.5L182.5 412.0L182.6 413.5L182.7 415.0L182.8 416.5L182.9 418.0L183.0 419.5L183.2 421.0L183.3 422.4L183.4 423.9L183.5 425.4L183.6 426.9L183.7 428.4L183.9 429.9L184.0 431.4L184.1 432.9L184.2 434.4L184.3 435.9L184.5 437.4L184.6 438.9L184.7 440.4L184.8 441.9L184.9 443.4L185.0 444.9L185.2 446.4L185.3 447.9L185.4 449.4L185.5 450.9L185.6 452.3L185.8 453.8L185.9 455.3L186.0 456.8L186.1 458.3L186.2 459.8L186.4 461.3L186.5 462.8L186.6 464.3L186.7 465.8L186.8 467.3L187.0 468.8L187.1 470.3L187.2 471.8L187.3 473.3L187.4 474.8L187.6 476.3L187.7 477.8L187.8 479.3L187.9 480.7L188.1 482.2L188.2 483.7L188.3 485.2L188.4 486.7L188.5 488.2L188.7 489.7L188.8 491.2L188.9 492.7L189.0 494.2L189.2 495.7L189.3 497.2L189.4 498.7L189.5 500.2L189.7 501.7L189.8 503.2L189.9 504.7L190.0 506.2L190.2 507.6L190.3 509.1L190.4 510.6L190.5 512.1L190.7 513.6L190.8 515.1L190.9 516.6L191.1 518.1L191.2 519.6L191.3 521.1L191.4 522.6L191.6 524.1L191.7 525.6L191.8 527.1L192.0 528.6L192.1 530.1L192.2 531.6L192.3 533.0L192.5 534.5L192.6 536.0L192.7 537.5L192.9 539.0L193.0 540.5L193.1 542.0L193.3 543.5L193.4 545.0L193.5 546.5L193.7 548.0L193.8 549.5L193.9 551.0L194.1 552.5L194.2 554.0L194.3 555.5L194.5 556.9L194.6 558.4L194.8 559.9L194.9 561.4L195.0 562.9L195.2 564.4L195.3 565.9L195.5 567.4L195.6 568.9L195.7 570.4L195.9 571.9L196.0 573.4L196.2 574.9L196.3 576.4L196.4 577.9L196.6 579.3L196.7 580.8L196.9 582.3L197.0 583.8L197.2 585.3L197.3 586.8L197.5 588.3L197.6 589.8L197.8 591.3L197.9 592.8L198.1 594.3L198.2 595.8L198.4 597.3L198.5 598.7L198.7 600.2L198.8 601.7L199.0 603.2L199.1 604.7L199.3 606.2L199.5 607.7L199.6 609.2L199.8 610.7L199.9 612.2L200.1 613.7L200.3 615.1L200.4 616.6L200.6 618.1L200.8 619.6L200.9 621.1L201.1 622.6L201.3 624.1L201.4 625.6L201.6 627.1L201.8 628.6L201.9 630.1L202.1 631.5L202.3 633.0L202.5 634.5L202.6 636.0L202.8 637.5L203.0 639.0L203.2 640.5L203.3 642.0L203.5 643.5L203.7 644.9L203.9 646.4L204.1 647.9L204.3 649.4L204.5 650.9L204.6 652.4L204.8 653.9L205.0 655.4L205.2 656.8L205.4 658.3L205.6 659.8L205.8 661.3L206.0 662.8L206.2 664.3L206.4 665.8L206.6 667.2L206.8 668.7L207.1 670.2L207.3 671.7L207.5 673.2L207.7 674.7L207.9 676.2L208.1 677.6L208.4 679.1L208.6 680.6L208.8 682.1L209.0 683.6L209.3 685.0L209.5 686.5L209.8 688.0L210.0 689.5L210.3 691.0L210.5 692.4L210.8 693.9L211.0 695.4L211.3 696.9L211.5 698.4L211.8 699.8L212.1 701.3L212.4 702.8L212.6 704.2L212.9 705.7L213.2 707.2L213.5 708.7L213.8 710.1L214.2 711.6L214.5 713.1L214.8 714.5L215.1 716.0L215.5 717.4L215.8 718.9L216.2 720.4L216.6 721.8L217.0 723.3L217.4 724.7L217.8 726.1L218.2 727.6L218.7 729.0L219.2 730.4L219.7 731.8L220.2 733.2L220.7 734.6L221.3 736.0L221.6 736.6"/>
<path stroke="#FF0000" stroke-dasharray="32.197 32.197" d="M221.6 736.6L222.0 737.4L222.7 738.7L223.5 740.0L224.3 741.2L225.3 742.4L226.4 743.4L227.7 744.1L229.2 744.4L230.6 744.2L232.0 743.6L233.2 742.7L234.3 741.7L235.3 740.6L236.2 739.4L237.0 738.1L237.8 736.8L238.5 735.5L239.2 734.2L239.9 732.9L240.6 731.5L241.2 730.2L241.8 728.8L242.4 727.4L242.9 726.0L243.5 724.6L244.0 723.2L244.6 721.8L245.1 720.4L245.6 719.0L246.1 717.6L246.6 716.2L247.0 714.7L247.5 713.3L248.0 711.9L248.4 710.5L248.9 709.0L249.3 707.6L249.7 706.2L250.1 704.7L250.6 703.3L251.0 701.8L251.4 700.4L251.8 698.9L252.2 697.5L252.5 696.0L252.9 694.6L253.3 693.1L253.7 691.7L254.1 690.2L254.4 688.8L254.8 687.3L255.2 685.9L255.5 684.4L255.9 683.0L256.2 681.5L256.6 680.1L256.9 678.6L257.3 677.1L257.6 675.7L257.9 674.2L258.3 672.7L258.6 671.3L258.9 669.8L259.3 668.4L259.6 666.9L259.9 665.4L260.2 664.0L260.5 662.5L260.9 661.0L261.2 659.6L261.5 658.1L261.8 656.6L262.1 655.2L262.4 653.7L262.7 652.2L263.0 650.8L263.3 649.3L263.6 647.8L263.9 646.3L264.2 644.9L264.5 643.4L264.8 641.9L265.1 640.5L265.4 639.0L265.7 637.5L265.9 636.1L266.2 634.6L266.5 633.1L266.8 631.6L267.1 630.2L267.4 628.7L267.6 627.2L267.9 625.7L268.2 624.3L268.5 622.8L268.7 621.3L269.0 619.8L269.3 618.4L269.5 616.9L269.8 615.4L270.1 613.9L270.3 612.5L270.6 611.0L270.9 609.5L271.1 608.0L271.4 606.6L271.7 605.1L271.9 603.6L272.2 602.1L272.5 600.7L272.7 599.2L273.0 597.7L273.2 596.2L273.5 594.7L273.7 593.3L274.0 591.8L274.2 590.3L274.5 588.8L274.8 587.4L275.0 585.9L275.3 584.4L275.5 582.9L275.8 581.4L276.0 580.0L276.2 578.5L276.5 577.0L276.7 575.5L277.0 574.0L277.2 572.6L277.5 571.1L277.7 569.6L278.0 568.1L278.2 566.6L278.5 565.2L278.7 563.7L278.9 562.2L279.2 560.7L279.4 559.2L279.7 557.8L279.9 556.3L280.1 554.8L280.4 553.3L280.6 551.8L280.8 550.4L281.1 548.9L281.3 547.4L281.6 545.9L281.8 544.4L282.0 543.0L282.3 541.5L282.5 540.0L282.7 538.5L283.0 537.0L283.2 535.5L283.4 534.1L283.7 532.6L283.9 531.1L284.1 529.6L284.4 528.1L284.6 526.7L284.8 525.2L285.0 523.7L285.3 522.2L285.5 520.7L285.7 519.3L286.0 517.8L286.2 516.3L286.4 514.8L286.7 513.3L286.9 511.8L287.1 510.4L287.4 508.9L287.6 507.4L287.8 505.9L288.1 504.4L288.3 503.0L288.5 501.5L288.7 500.0L289.0 498.5L289.2 497.0L289.4 495.5L289.7 494.1L289.9 492.6L290.1 491.1L290.4 489.6L290.6 488.1L290.8 486.7L291.1 485.2L291.3 483.7L291.6 482.2L291.8 480.7L292.0 479.3L292.3 477.8L292.5 476.3L292.7 474.8L293.0 473.3L293.2 471.8L293.5 470.4L293.7 468.9L293.9 467.4L294.2 465.9L294.4 464.4L294.7 463.0L294.9 461.5L295.2 460.0L295.4 458.5L295.7 457.1L295.9 455.6L296.2 454.1L296.4 452.6L296.7 451.1L296.9 449.7L297.2 448.2L297.4 446.7L297.7 445.2L297.9 443.7L298.2 442.3L298.5 440.8L298.7 439.3L299.0 437.8L299.3 436.4L299.5 434.9L299.8 433.4L300.1 431.9L300.3 430.5L300.6 429.0L300.9 427.5L301.2 426.0L301.4 424.6L301.7 423.1L302.0 421.6L302.3 420.2L302.6 418.7L302.9 417.2L303.2 415.7L303.5 414.3L303.8 412.8L304.1 411.3L304.4 409.9L304.7 408.4L305.0 406.9L305.4 405.5L305.7 404.0L306.0 402.5L306.4 401.1L306.7 399.6L307.1 398.2L307.4 396.7L307.8 395.3L308.1 393.8L308.5 392.4L308.9 390.9L309.3 389.5L309.7 388.0L310.1 386.6L310.5 385.1L311.0 383.7L311.4 382.3L311.4 382.2"/>
<path stroke="#FF0000" stroke-dasharray="32.099 32.099" d="M311.4 382.2L311.9 380.8L312.3 379.4L312.8 378.0L313.3 376.6L313.8 375.2L314.3 373.8L314.9 372.4L315.4 371.0L316.0 369.6L316.6 368.2L317.3 366.9L317.9 365.5L318.6 364.2L319.4 362.9L320.2 361.6L321.0 360.4L321.9 359.2L322.8 358.0L323.9 356.9L325.0 355.9L326.2 355.0L327.5 354.3L328.9 353.7L330.3 353.4L331.8 353.3L333.3 353.4L334.8 353.8L336.1 354.4L337.5 355.1L338.7 356.0L339.9 356.9L341.0 358.0L342.0 359.0L343.0 360.1L344.0 361.3L344.9 362.5L345.8 363.7L346.6 364.9L347.5 366.2L348.3 367.4L349.1 368.7L349.8 370.0L350.6 371.3L351.3 372.6L352.0 373.9L352.7 375.2L353.4 376.6L354.1 377.9L354.7 379.3L355.4 380.6L356.0 382.0L356.6 383.3L357.3 384.7L357.9 386.1L358.5 387.4L359.1 388.8L359.7 390.2L360.2 391.6L360.8 393.0L361.4 394.4L362.0 395.7L362.5 397.1L363.1 398.5L363.6 399.9L364.2 401.3L364.7 402.7L365.2 404.1L365.8 405.5L366.3 406.9L366.8 408.3L367.3 409.8L367.8 411.2L368.3 412.6L368.9 414.0L369.4 415.4L369.9 416.8L370.4 418.2L370.9 419.6L371.4 421.1L371.8 422.5L372.3 423.9L372.8 425.3L373.3 426.7L373.8 428.1L374.3 429.6L374.8 431.0L375.2 432.4L375.7 433.8L376.2 435.2L376.7 436.7L377.1 438.1L377.6 439.5L378.1 440.9L378.5 442.4L379.0 443.8L379.5 445.2L379.9 446.6L380.4 448.1L380.9 449.5L381.3 450.9L381.8 452.3L382.3 453.8L382.7 455.2L383.2 456.6L383.6 458.1L384.1 459.5L384.6 460.9L385.0 462.3L385.5 463.8L385.9 465.2L386.4 466.6L386.9 468.0L387.3 469.5L387.8 470.9L388.3 472.3L388.7 473.7L389.2 475.2L389.7 476.6L390.1 478.0L390.6 479.4L391.1 480.9L391.6 482.3L392.0 483.7L392.5 485.1L393.0 486.6L393.5 488.0L394.0 489.4L394.5 490.8L395.0 492.2L395.5 493.6L396.0 495.0L396.5 496.4L397.0 497.9L397.5 499.3L398.1 500.7L398.6 502.1L399.1 503.5L399.7 504.9L400.3 506.2L400.8 507.6L401.4 509.0L402.0 510.4L402.6 511.8L403.2 513.1L403.8 514.5L404.5 515.9L405.1 517.2L405.8 518.6L406.5 519.9L407.2 521.2L407.9 522.5L408.7 523.8L409.5 525.1L410.4 526.3L411.3 527.5L412.2 528.7L413.2 529.8L414.3 530.8L415.9 532.8L417.3 533.3L418.7 533.7L420.2 534.0L421.7 534.2L423.2 534.3L424.6 534.2L426.1 534.1L427.6 533.8L429.0 533.4L430.5 532.9L431.9 532.4L432.8 532.0"/>
<path stroke="#FF0000" stroke-dasharray="32.302 32.302" d="M432.8 532.0L433.2 531.8L434.6 531.1L435.9 530.4L437.1 529.6L438.4 528.7L439.6 527.8L440.8 526.9L441.9 526.0L443.0 525.0L444.2 524.0L445.2 523.0L446.3 521.9L447.4 520.9L448.4 519.8L449.4 518.7L450.4 517.6L451.4 516.5L452.4 515.3L453.3 514.2L454.3 513.0L455.2 511.9L456.1 510.7L457.1 509.5L458.0 508.3L458.9 507.1L459.7 505.9L460.6 504.7L461.5 503.5L462.3 502.2L463.2 501.0L464.1 499.8L464.9 498.6L465.7 497.3L466.6 496.1L467.4 494.8L468.2 493.6L469.0 492.3L469.9 491.1L470.7 489.8L471.5 488.6L472.3 487.3L473.1 486.0L473.9 484.8L474.7 483.5L475.5 482.2L476.3 481.0L477.1 479.7L477.8 478.4L478.6 477.2L479.4 475.9L480.2 474.6L481.0 473.3L481.8 472.1L482.6 470.8L483.4 469.5L484.2 468.3L485.0 467.0L485.8 465.8L486.6 464.5L487.5 463.3L488.3 462.1L489.2 460.9L490.1 459.7L491.0 458.5L492.0 457.3L493.0 456.2L494.0 455.1L495.1 454.1L496.2 453.0L497.3 452.1L498.5 451.2L499.7 450.3L501.0 449.6L502.3 448.9L503.7 448.3L505.1 447.8L506.6 447.4L508.0 447.1L509.5 446.9L511.0 446.8L512.5 446.9L514.0 447.0L515.5 447.3L516.9 447.6L518.4 448.0L519.8 448.5L521.2 449.1L521.2 449.1"/>
<path stroke="#FF0000" stroke-dasharray="32.187 32.187" d="M521.2 449.1L522.5 449.7L523.9 450.3L525.2 451.0L526.5 451.7L527.8 452.5L529.0 453.3L530.3 454.2L531.5 455.0L532.7 455.9L533.9 456.8L535.1 457.7L536.3 458.6L537.5 459.5L538.6 460.5L539.8 461.4L540.9 462.4L542.0 463.4L543.2 464.4L544.3 465.3L545.4 466.3L546.6 467.3L547.7 468.3L548.8 469.3L549.9 470.3L551.1 471.2L552.2 472.2L553.3 473.2L554.5 474.1L555.6 475.1L556.8 476.0L558.0 477.0L559.1 477.9L560.3 478.8L561.5 479.7L562.7 480.6L564.0 481.4L565.2 482.3L566.5 483.1L567.7 483.8L569.0 484.6L570.4 485.3L571.7 485.9L573.1 486.5L574.5 487.1L575.9 487.6L577.3 488.0L578.8 488.4L580.2 488.7L581.7 489.0L583.2 489.1L584.7 489.3L586.2 489.3L587.7 489.4L589.2 489.3L590.7 489.2L592.1 489.1L593.6 488.9L595.1 488.7L596.6 488.4L598.0 488.1L599.5 487.8L600.9 487.4L602.4 487.0L603.8 486.6L605.3 486.2L606.7 485.7L608.1 485.2L609.5 484.7L610.9 484.2L612.3 483.7L613.7 483.2L615.1 482.6L616.5 482.1L617.9 481.5L619.3 481.0L620.7 480.4L622.1 479.9L623.5 479.3L624.9 478.8L626.2 478.3L627.6 477.7L629.1 477.2L630.5 476.7L631.9 476.2L633.3 475.7L634.7 475.3L636.1 474.8L637.6 474.4L639.0 474.0L640.5 473.6L641.9 473.2L643.4 472.9L644.8 472.6L646.3 472.3L647.8 472.0L649.2 471.8L650.7 471.6L652.2 471.4L653.7 471.3L655.2 471.2L656.7 471.1L658.2 471.1L659.7 471.1L661.2 471.1L662.7 471.2L664.2 471.3L665.6 471.5L667.1 471.6L668.6 471.8L670.1 472.0L671.6 472.3L673.0 472.5L674.5 472.8L676.0 473.1L677.5 473.4L678.9 473.6L680.4 473.9L681.8 474.2L683.3 474.5L684.8 474.8L686.2 475.1L687.7 475.4L689.2 475.7L690.7 476.0L692.1 476.2L693.6 476.5L695.1 476.7L696.6 476.9L698.0 477.1L698.3 477.1"/>
<path stroke="#FF0000" stroke-dasharray="32.000 32.000" d="M698.3 477.1L699.5 477.3L701.0 477.4L702.5 477.6L704.0 477.7L705.5 477.9L707.0 478.0L708.5 478.1L710.0 478.2L711.5 478.2L712.9 478.3L714.4 478.4L715.9 478.4L717.4 478.4L718.9 478.5L720.4 478.5L721.9 478.5L723.4 478.5L724.9 478.5L726.4 478.4L727.9 478.4L729.4 478.4L730.9 478.3L732.4 478.3L733.9 478.2L735.4 478.2L736.9 478.1L738.4 478.1L739.9 478.0L741.4 477.9L742.8 477.8L744.3 477.8L745.8 477.7L747.3 477.6L748.8 477.5L750.3 477.4L751.8 477.3L753.3 477.2L754.8 477.1L756.3 477.0L757.8 476.9L759.3 476.9L760.8 476.8L762.3 476.7L763.7 476.6L765.2 476.5L766.7 476.4L768.2 476.4L769.7 476.3L771.2 476.2L772.7 476.2L774.2 476.1L775.7 476.1L777.2 476.0L778.7 476.0L780.2 475.9L781.7 475.9L783.2 475.9L784.7 475.9L786.2 475.9L787.7 475.9L789.2 475.9L790.7 475.9L792.1 475.9L793.6 475.9L795.1 475.9L796.6 475.9L798.1 476.0L799.6 476.0L801.1 476.0L802.6 476.1L804.1 476.1L805.6 476.1L807.1 476.2L808.6 476.2L810.1 476.2L811.6 476.3L813.1 476.3L814.6 476.3L816.1 476.4L817.6 476.4L819.1 476.4L820.6 476.4L822.1 476.5L823.5 476.5L825.0 476.5L826.5 476.5L828.0 476.5L829.5 476.5L831.0 476.5L832.5 476.5L834.0 476.5L835.5 476.5L837.0 476.5L838.5 476.4L840.0 476.4L1298.8 476.4"/>
<path stroke="#EDB120" stroke-dasharray="7.996 8.036" d="M140.4 222.1L140.4 220.6L140.5 219.1L140.5 217.7L140.5 216.2L140.6 214.7L140.6 213.2L140.6 211.8L140.7 210.3L140.7 208.8L140.7 207.3L140.8 205.8L140.8 204.4L140.8 202.9L140.9 201.4L140.9 199.9L140.9 198.5L141.0 197.0L141.0 195.5L141.1 194.0L141.1 192.5L141.2 191.1L141.2 189.6L141.2 188.1L141.3 186.6L141.3 185.1L141.4 183.7L141.4 182.2L141.5 180.7L141.5 179.2L141.6 177.8L141.6 176.3L141.7 174.8L141.8 173.3L141.8 171.9L141.9 170.4L141.9 168.9L142.0 167.4L142.1 165.9L142.1 164.5L142.2 163.0L142.3 161.5L142.3 160.0L142.4 158.6L142.5 157.1L142.6 155.6L142.8 154.1L143.0 152.7L143.2 151.2L143.6 149.8L144.2 148.5L144.5 150.0L144.8 151.4L145.1 152.9L145.4 154.4L145.7 155.8L146.0 157.3L146.3 158.8L146.6 160.2L146.9 161.7L147.2 163.2L147.5 164.6L147.8 166.1L148.1 167.6L148.4 169.1L148.7 170.5L149.0 172.0L149.3 173.5L149.6 174.9L149.9 176.4L150.2 177.9L150.5 179.3L150.8 180.8L151.1 182.3L151.4 183.8L151.6 185.2L151.9 186.7L152.2 188.2L152.5 189.7L152.8 191.1L153.1 192.6L153.3 194.1L153.6 195.5L153.9 197.0L154.2 198.5L154.5 200.0L154.7 201.4L155.0 202.9L155.3 204.4L155.6 205.9L155.8 207.3L156.1 208.8L156.4 210.3L156.7 211.7L156.9 213.2L157.2 214.7L157.5 216.2L157.7 217.6L158.0 219.1L158.3 220.6L158.5 222.1L158.8 223.6L159.1 225.0L159.3 226.5L159.6 228.0L159.9 229.5L160.1 230.9L160.4 232.4L160.6 233.4"/>
<path stroke="#EDB120" stroke-dasharray="7.992 8.032" d="M160.6 233.4L160.6 233.9L160.9 235.4L161.2 236.8L161.4 238.3L161.7 239.8L161.9 241.3L162.2 242.7L162.4 244.2L162.7 245.7L162.9 247.2L163.2 248.7L163.5 250.1L163.7 251.6L163.9 253.1L164.2 254.6L164.4 256.0L164.7 257.5L164.9 259.0L165.2 260.5L165.4 262.0L165.7 263.4L165.9 264.9L166.2 266.4L166.4 267.9L166.6 269.4L166.9 270.8L167.1 272.3L167.4 273.8L167.6 275.3L167.8 276.8L168.1 278.2L168.3 279.7L168.6 281.2L168.8 282.7L169.0 284.2L169.3 285.6L169.5 287.1L169.7 288.6L170.0 290.1L170.2 291.6L170.4 293.1L170.6 294.5L170.9 296.0L171.1 297.5L171.3 299.0L171.6 300.5L171.8 301.9L172.0 303.4L172.2 304.9L172.5 306.4L172.7 307.9L172.9 309.4L173.1 310.8L173.3 312.3L173.6 313.8L173.8 315.3L174.0 316.8L174.2 318.3L174.4 319.7L174.7 321.2L174.9 322.7L175.1 324.2L175.3 325.7L175.5 327.2L175.7 328.6L176.0 330.1L176.2 331.6L176.4 333.1L176.6 334.6L176.8 336.1L177.0 337.5L177.2 339.0L177.4 340.5L177.7 342.0L177.9 343.5L178.1 345.0L178.3 346.4L178.5 347.9L178.7 349.4L178.9 350.9L179.1 352.4L179.3 353.9L179.5 355.4L179.7 356.8L179.9 358.3L180.1 359.8L180.4 361.3L180.6 362.8L180.8 364.3L181.0 365.8L181.2 367.2L181.4 368.7L181.6 370.2L181.8 371.7L182.0 373.2L182.2 374.7L182.4 376.2L182.6 377.6L182.8 379.1L183.0 380.6L183.2 382.1L183.4 383.6L183.6 385.1L183.8 386.6L183.9 388.0L184.1 389.5L184.3 391.0L184.5 392.5L184.7 394.0L184.9 395.5L185.1 397.0L185.3 398.5L185.5 399.9L185.7 401.4L185.9 402.9L186.1 404.4L186.3 405.9L186.5 407.4L186.6 408.9L186.8 410.3L187.0 411.8L187.2 413.3L187.4 414.8L187.6 416.3L187.8 417.8L188.0 419.3L188.2 420.8L188.3 422.2L188.5 423.7L188.7 425.2L188.9 426.7L189.1 428.2L189.3 429.7L189.5 431.2L189.6 432.7L189.8 434.1L190.0 435.6L190.2 437.1L190.4 438.6L190.6 440.1L190.7 441.6L190.9 443.1L191.1 444.6L191.3 446.1L191.5 447.5L191.7 449.0L191.8 450.5L192.0 452.0L192.2 453.5L192.4 455.0L192.6 456.5L192.7 458.0L192.9 459.4L193.1 460.9L193.3 462.4L193.5 463.9L193.6 465.4L193.8 466.9L194.0 468.4L194.2 469.9L194.4 471.4L194.5 472.8L194.7 474.3L194.9 475.8L195.1 477.3L195.3 478.8L195.4 480.3L195.6 481.8L195.8 483.3L196.0 484.8L196.2 486.2L196.3 487.7L196.5 489.2L196.7 490.7L196.9 492.2L197.1 493.7L197.3 495.2L197.5 496.7L197.6 498.1L197.8 499.6L198.0 501.1L198.2 502.6L198.4 504.1L198.6 505.6L198.8 507.1L199.0 508.6L199.2 510.0L199.4 511.5L199.6 513.0L199.8 514.5L200.0 516.0L200.2 517.5L200.4 519.0L200.6 520.4L200.8 521.9L201.0 523.4L201.2 524.9L201.5 526.4L201.7 527.9L201.9 529.3L202.1 530.8L202.3 532.3L202.5 533.8L202.8 535.3L203.0 536.8L203.2 538.2L203.5 539.7L203.7 541.2L203.9 542.7L204.2 544.2L204.4 545.6L204.6 547.1L204.9 548.6L205.1 550.1L205.4 551.6L205.6 553.0L205.9 554.5L206.1 556.0L206.4 557.5L206.6 558.9L206.9 560.4L207.2 561.9L207.4 563.4L207.7 564.8L208.0 566.3L208.3 567.8L208.5 569.3L208.8 570.7L209.1 572.2L209.4 573.7L209.7 575.1L210.0 576.6L210.3 578.1L210.6 579.6L210.9 581.0L211.3 582.5L211.6 583.9L211.9 585.4L212.2 586.9L212.6 588.3L212.9 589.8L213.3 591.2L213.6 592.7L214.0 594.2L214.4 595.6L214.8 597.1L215.1 598.5L215.5 600.0L215.9 601.4L216.4 602.8L216.8 604.3L217.2 605.7L217.7 607.1L218.1 608.6L218.6 610.0L219.1 611.4L219.6 612.8L220.1 614.2L220.6 615.6L221.2 617.0L221.7 618.4L222.3 619.8L223.0 621.2L223.6 622.5L224.3 623.8L225.0 625.2L225.8 626.4L226.5 627.5"/>
<path stroke="#EDB120" stroke-dasharray="7.960 7.999" d="M226.5 627.5L226.6 627.7L227.5 628.9L228.4 630.1L229.5 631.1L230.6 632.1L231.9 633.0L233.2 633.6L234.7 633.9L236.2 634.0L237.6 633.7L239.0 633.1L240.3 632.3L241.5 631.4L242.6 630.4L243.7 629.3L244.6 628.2L245.6 627.0L246.4 625.8L247.3 624.6L248.1 623.3L248.8 622.0L249.6 620.7L250.3 619.4L251.0 618.1L251.7 616.7L252.3 615.4L253.0 614.0L253.6 612.7L254.2 611.3L254.8 609.9L255.4 608.6L256.0 607.2L256.6 605.8L257.2 604.4L257.7 603.0L258.3 601.6L258.8 600.2L259.3 598.8L259.9 597.4L260.4 596.0L260.9 594.6L261.4 593.2L261.9 591.8L262.4 590.3L262.9 588.9L263.4 587.5L263.9 586.1L264.3 584.7L264.8 583.3L265.3 581.8L265.8 580.4L266.2 579.0L266.7 577.6L267.1 576.1L267.6 574.7L268.0 573.3L268.5 571.8L268.9 570.4L269.4 569.0L269.8 567.5L270.3 566.1L270.7 564.7L271.1 563.2L271.6 561.8L272.0 560.4L272.4 558.9L272.8 557.5L273.3 556.0L273.7 554.6L274.1 553.2L274.5 551.7L274.9 550.3L275.3 548.8L275.8 547.4L276.2 546.0L276.6 544.5L277.0 543.1L277.4 541.6L277.8 540.2L278.2 538.7L278.6 537.3L279.0 535.9L279.4 534.4L279.8 533.0L280.2 531.5L280.6 530.1L281.0 528.6L281.4 527.2L281.8 525.7L282.2 524.3L282.6 522.8L283.0 521.4L283.4 520.0L283.8 518.5L284.2 517.1L284.5 515.6L284.9 514.2L285.3 512.7L285.7 511.3L286.1 509.8L286.5 508.4L286.9 506.9L287.3 505.5L287.7 504.0L288.0 502.6L288.4 501.1L288.8 499.7L289.2 498.2L289.6 496.8L290.0 495.3L290.4 493.9L290.7 492.4L291.1 491.0L291.5 489.5L291.9 488.1L292.3 486.6L292.7 485.2L293.1 483.7L293.5 482.3L293.8 480.9L294.2 479.4L294.6 478.0L295.0 476.5L295.4 475.1L295.8 473.6L296.2 472.2L296.6 470.7L297.0 469.3L297.3 467.8L297.7 466.4L298.1 464.9L298.5 463.5L298.9 462.0L299.3 460.6L299.7 459.2L300.1 457.7L300.6 456.3L301.0 454.8L301.4 453.4L301.8 451.9L302.2 450.5L302.6 449.1L303.1 447.6L303.5 446.2L303.9 444.8L304.4 443.3L304.8 441.9L305.3 440.5L305.7 439.0L306.2 437.6L306.7 436.2L307.1 434.8L307.6 433.3L308.1 431.9L308.6 430.5L309.1 429.1L309.7 427.7L310.2 426.3L310.7 424.9L311.3 423.5L311.9 422.1L312.5 420.8L313.1 419.4L313.8 418.1L314.4 416.7L315.2 415.4L315.9 414.1L316.7 412.8L317.5 411.6L318.4 410.3L319.3 409.2L319.5 409.0"/>
<path stroke="#EDB120" stroke-dasharray="7.917 7.957" d="M319.5 409.0L320.3 408.0L321.3 407.0L322.5 406.0L323.7 405.1L325.0 404.3L326.3 403.7L327.7 403.2L329.2 403.0L330.7 402.9L332.2 403.0L333.7 403.3L335.1 403.8L336.5 404.3L337.9 404.9L339.2 405.6L340.5 406.4L341.7 407.2L343.0 408.1L344.1 409.0L345.3 410.0L346.4 411.0L347.5 412.0L348.5 413.1L349.6 414.2L350.6 415.3L351.6 416.4L352.5 417.6L353.5 418.7L354.4 419.9L355.3 421.1L356.2 422.3L357.0 423.5L357.9 424.8L358.7 426.0L359.6 427.3L360.4 428.5L361.2 429.8L362.0 431.1L362.7 432.4L363.5 433.6L364.3 434.9L365.0 436.2L365.8 437.5L366.5 438.8L367.2 440.1L368.0 441.5L368.7 442.8L369.4 444.1L370.1 445.4L370.8 446.7L371.5 448.0L372.2 449.4L372.9 450.7L373.6 452.0L374.3 453.4L375.0 454.7L375.7 456.0L376.4 457.3L377.1 458.7L377.8 460.0L378.5 461.3L379.2 462.7L379.9 464.0L380.6 465.3L381.3 466.7L381.9 468.0L382.6 469.3L383.3 470.6L384.0 472.0L384.8 473.3L385.5 474.6L386.2 475.9L386.9 477.2L387.6 478.6L388.3 479.9L389.1 481.2L389.8 482.5L390.5 483.8L391.3 485.1L392.0 486.4L392.8 487.7L393.6 489.0L394.4 490.2L395.2 491.5L396.0 492.8L396.8 494.0L397.6 495.3L398.5 496.5L399.4 497.7L400.2 498.9L401.1 500.1L402.1 501.3L403.0 502.5L404.0 503.6L405.0 504.7L406.1 505.8L407.2 506.8L408.3 507.8L409.5 508.7L410.8 509.5L412.1 510.2L413.4 510.8L414.9 511.2L416.4 511.5L417.9 511.4L419.3 511.3L419.5 511.2"/>
<path stroke="#EDB120" stroke-dasharray="8.009 8.049" d="M419.5 511.2L420.8 510.9L422.3 510.5L423.7 510.1L425.1 509.6L426.5 509.1L427.9 508.6L429.3 508.1L430.7 507.5L432.1 507.0L433.5 506.3L434.9 505.7L436.2 505.1L437.5 504.4L438.8 503.7L440.1 502.9L441.4 502.1L442.7 501.3L443.9 500.5L445.2 499.6L446.4 498.7L447.5 497.8L448.7 496.8L449.8 495.9L450.9 494.9L452.0 493.8L453.1 492.8L454.2 491.7L455.2 490.7L456.3 489.6L457.3 488.5L458.3 487.4L459.3 486.3L460.3 485.1L461.3 484.0L462.3 482.9L463.3 481.8L464.3 480.7L465.3 479.6L466.3 478.5L467.3 477.4L468.4 476.3L469.4 475.2L470.5 474.1L471.5 473.1L472.6 472.1L473.7 471.0L474.9 470.1L476.0 469.1L477.2 468.2L478.4 467.3L479.7 466.4L480.9 465.6L482.2 464.8L483.5 464.1L484.8 463.4L486.2 462.8L487.6 462.2L489.0 461.6L490.4 461.2L491.8 460.7L493.3 460.4L494.7 460.1L496.2 459.9L497.7 459.7L498.2 459.7"/>
<path stroke="#EDB120" stroke-dasharray="7.952 7.992" d="M498.2 459.7L499.2 459.6L500.7 459.6L502.2 459.6L503.7 459.7L505.2 459.9L506.7 460.1L508.1 460.4L509.6 460.7L511.1 461.1L512.5 461.5L513.9 462.0L515.4 462.4L516.8 463.0L518.2 463.5L519.5 464.1L520.9 464.7L522.3 465.3L523.7 465.9L525.0 466.5L526.4 467.2L527.7 467.8L529.1 468.5L530.4 469.2L531.7 469.9L533.1 470.6L534.4 471.3L535.7 471.9L537.1 472.6L538.4 473.3L539.7 474.0L541.1 474.6L542.4 475.3L543.8 476.0L545.1 476.6L546.5 477.2L547.9 477.8L549.2 478.4L550.6 479.0L552.0 479.5L553.4 480.0L554.9 480.5L556.3 481.0L557.7 481.4L559.2 481.8L560.6 482.2L562.1 482.6L563.5 482.9L565.0 483.2L566.5 483.4L568.0 483.7L569.4 483.8L570.9 484.0L572.4 484.1L573.2 484.1"/>
<path stroke="#EDB120" stroke-dasharray="8.038 8.078" d="M573.2 484.1L573.9 484.1L575.4 484.1L576.9 484.1L578.4 484.1L579.9 484.0L581.4 483.9L582.9 483.7L584.4 483.5L585.9 483.3L587.4 483.1L588.9 482.9L590.3 482.6L591.8 482.3L593.3 482.0L594.7 481.7L596.2 481.4L597.7 481.1L599.1 480.7L600.6 480.4L602.0 480.0L603.5 479.6L604.9 479.3L606.4 478.9L607.8 478.5L609.3 478.1L610.7 477.7L612.2 477.4L613.6 477.0L615.1 476.6L616.6 476.3L618.0 475.9L619.5 475.6L620.9 475.3L622.4 475.0L623.9 474.7L625.3 474.4L626.8 474.1L628.3 473.9L629.8 473.7L631.3 473.5L632.8 473.3L634.3 473.2L635.8 473.0L637.2 473.0L638.7 472.9L640.2 472.8L641.7 472.8L643.2 472.8L644.7 472.8L646.2 472.8L647.7 472.9L649.2 472.9L650.7 473.0L652.2 473.1L653.7 473.2L655.2 473.3L656.7 473.4L658.2 473.6L659.7 473.7L661.2 473.9L662.7 474.0L664.2 474.2L665.7 474.3L667.2 474.5L668.6 474.6L670.1 474.8L671.6 475.0L673.1 475.1L674.6 475.3L676.1 475.4L677.6 475.6L679.1 475.7L680.6 475.9L682.1 476.0L683.6 476.1L684.7 476.2"/>
<path stroke="#EDB120" stroke-dasharray="8.000 8.040" d="M684.7 476.2L685.1 476.2L686.6 476.3L688.1 476.4L689.6 476.5L691.1 476.5L692.6 476.6L694.0 476.6L695.5 476.7L697.0 476.7L698.5 476.7L700.0 476.8L701.5 476.8L703.0 476.8L704.5 476.8L706.0 476.8L707.5 476.8L709.0 476.8L710.5 476.8L712.0 476.8L713.5 476.7L715.0 476.7L716.5 476.7L718.0 476.7L719.5 476.7L721.0 476.7L722.5 476.6L724.0 476.6L725.5 476.6L727.0 476.6L728.5 476.6L730.0 476.6L731.5 476.6L733.0 476.5L734.5 476.5L736.0 476.5L737.5 476.5L739.0 476.5L740.5 476.5L742.0 476.5L743.5 476.5L745.0 476.4L746.5 476.4L748.0 476.4L749.5 476.4L751.0 476.4L752.5 476.4L754.0 476.4L755.5 476.4L757.0 476.4L758.5 476.4L760.0 476.4L761.5 476.4L763.0 476.4L764.5 476.4L766.0 476.4L767.5 476.4L769.0 476.4L770.5 476.4L772.0 476.4L773.5 476.4L775.0 476.4L776.5 476.4L778.0 476.4L779.5 476.4L781.0 476.4L782.5 476.4L784.0 476.4L785.5 476.4L787.0 476.4L788.5 476.4L790.0 476.4L1298.8 476.4"/>
</g>
<g class="lg">
<rect x="1116.8" y="16.6" width="183.4" height="324.7" fill="#fff" stroke="#262626" stroke-width="2.5"/>
<g class="cv">
<path stroke="#60D015" stroke-dasharray="32 8 16 8" d="M1127.4 60.5H1208.2"/>
<path stroke="#0000FF" d="M1127.4 139.4H1208.2"/>
<path stroke="#FF0000" stroke-dasharray="32 32" d="M1127.4 218.3H1208.2"/>
<path stroke="#EDB120" stroke-dasharray="8 8.04" d="M1127.4 297.2H1204"/>
</g>
<text x="1215.5" y="64.1" font-size="49.4px">T<tspan font-size="39px" dy="24.4">16</tspan></text>
<text x="1215.5" y="143.6" font-size="49.4px">T<tspan font-size="39px" dy="24.4">13</tspan></text>
<text x="1215.5" y="223.1" font-size="49.4px">T<tspan font-size="39px" dy="24.4">14</tspan></text>
<text x="1215.5" y="302.6" font-size="49.4px">T<tspan font-size="39px" dy="24.4">15</tspan></text>
</g>
</svg>
</body></html>
